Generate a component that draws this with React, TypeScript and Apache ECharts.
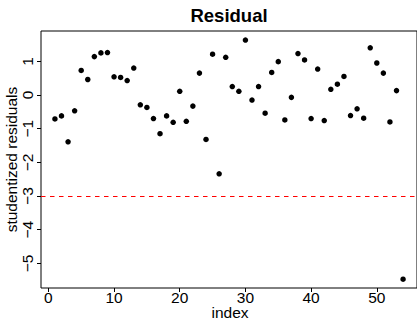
import React, { useEffect, useRef } from "react";
import * as echarts from "echarts";

const indices: number[] = Array.from({ length: 54 }, (_, k) => k + 1);
const residuals: number[] = [
  -0.71, -0.62, -1.39, -0.47, 0.73, 0.46, 1.14, 1.25, 1.26, 0.54,
  0.52, 0.43, 0.8, -0.29, -0.37, -0.7, -1.15, -0.62, -0.81, 0.11,
  -0.78, -0.33, 0.65, -1.32, 1.21, -2.34, 1.12, 0.25, 0.11, 1.63,
  -0.15, 0.25, -0.54, 0.67, 0.99, -0.74, -0.07, 1.23, 1.04, -0.7,
  0.77, -0.76, 0.17, 0.32, 0.55, -0.61, -0.41, -0.69, 1.4, 0.95,
  0.65, -0.8, 0.13, -5.47,
];
const xTicks: number[] = [0, 10, 20, 30, 40, 50];
const yTicks: number[] = [-5, -4, -3, -2, -1, 0, 1];
const threshold = -3;
const titleText = "Residual";
const xLabel = "index";
const yLabel = "studentized residuals";

const FONT = "'Liberation Sans', Arial, Helvetica, sans-serif";

export default function App() {
  const ref = useRef<HTMLDivElement>(null);
  useEffect(() => {
    if (!ref.current) return;
    const chart = echarts.init(ref.current, null, { renderer: "svg" });
    chart.setOption({
      animation: false,
      backgroundColor: "#fff",
      grid: {
        left: 41,
        top: 31,
        width: 379,
        height: 257,
        show: true,
        borderColor: "#000",
        borderWidth: 1,
        containLabel: false,
      },
      xAxis: {
        type: "value",
        min: -1.12,
        max: 56.12,
        splitLine: { show: false },
        axisLine: { show: false, onZero: false },
        axisTick: {
          show: true,
          customValues: xTicks,
          length: 4,
          inside: false,
          lineStyle: { color: "#000", width: 1 },
        },
        axisLabel: {
          customValues: xTicks,
          margin: 1,
          color: "#000",
          fontSize: 15.5,
          fontFamily: FONT,
        },
      },
      yAxis: {
        type: "value",
        min: -5.73,
        max: 1.9,
        splitLine: { show: false },
        axisLine: { show: false, onZero: false },
        axisTick: {
          show: true,
          customValues: yTicks,
          length: 4,
          inside: false,
          lineStyle: { color: "#000", width: 1 },
        },
        axisLabel: {
          customValues: yTicks,
          rotate: 90,
          margin: 6,
          color: "#000",
          fontSize: 15.5,
          fontFamily: FONT,
          formatter: (v: number) => String(v).replace("-", "\u2212"),
        },
      },
      graphic: [
        {
          type: "text",
          x: 229,
          y: 15,
          style: {
            text: titleText,
            font: `bold 18.5px ${FONT}`,
            fill: "#000",
            textAlign: "center",
            textVerticalAlign: "middle",
          },
        },
        {
          type: "text",
          x: 230,
          y: 312.5,
          style: {
            text: xLabel,
            font: `15.5px ${FONT}`,
            fill: "#000",
            textAlign: "center",
            textVerticalAlign: "middle",
          },
        },
        {
          type: "text",
          x: 11.5,
          y: 159.5,
          rotation: Math.PI / 2,
          style: {
            text: yLabel,
            font: `15.5px ${FONT}`,
            fill: "#000",
            textAlign: "center",
            textVerticalAlign: "middle",
          },
        },
      ],
      series: [
        {
          type: "scatter",
          data: indices.map((x, k) => [x, residuals[k]]),
          symbol: "circle",
          symbolSize: 5.5,
          itemStyle: { color: "#000", opacity: 1 },
          clip: false,
          markLine: {
            silent: true,
            symbol: ["none", "none"],
            label: { show: false },
            lineStyle: { color: "#ff0000", type: [4.5, 4.5], width: 1, opacity: 1 },
            data: [{ yAxis: threshold }],
          },
        },
      ],
    });
    return () => chart.dispose();
  }, []);
  return (
    <div
      ref={ref}
      style={{ position: "absolute", left: 0, top: 0, width: 417, height: 320 }}
    />
  );
}
